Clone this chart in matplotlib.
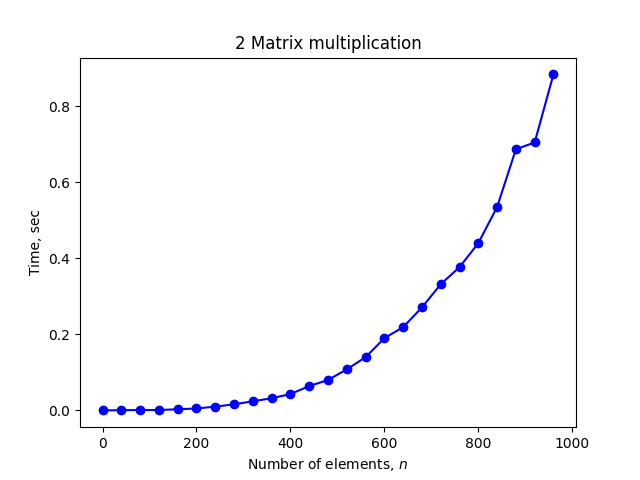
import matplotlib
matplotlib.use("Agg")
import matplotlib.pyplot as plt

n = [0, 40, 80, 120, 160, 200, 240, 280, 320, 360, 400, 440, 480,
     520, 560, 600, 640, 680, 720, 760, 800, 840, 880, 920, 960]
t = [0.0, 0.0005, 0.001, 0.001, 0.003, 0.005, 0.01, 0.016, 0.024, 0.032,
     0.043, 0.064, 0.08, 0.108, 0.14, 0.19, 0.219, 0.271, 0.332, 0.377,
     0.44, 0.535, 0.687, 0.705, 0.884]

fig = plt.figure(figsize=(6.4, 4.8), dpi=100)
plt.plot(n, t, "bo-")
plt.title("2 Matrix multiplication")
plt.xlabel("Number of elements, $n$")
plt.ylabel("Time, sec")
plt.savefig("out.png")
